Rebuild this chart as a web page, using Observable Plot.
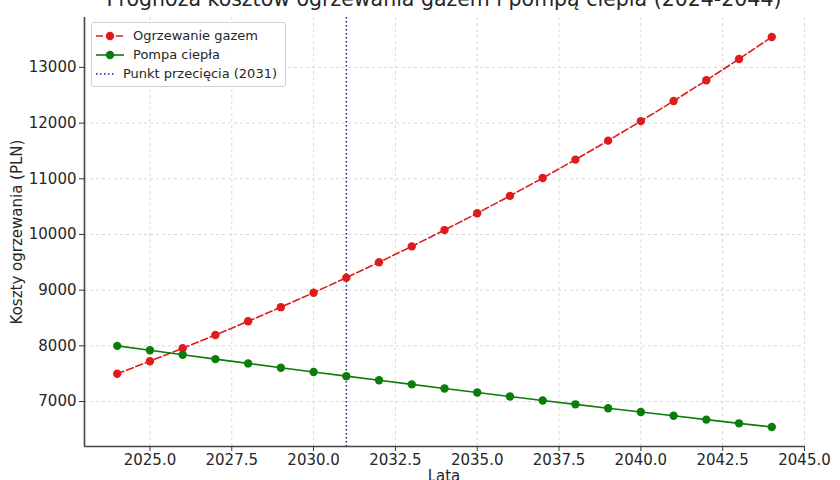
<!DOCTYPE html>
<html>
<head>
<meta charset="utf-8">
<script src="https://cdn.jsdelivr.net/npm/d3@7"></script>
<script src="https://cdn.jsdelivr.net/npm/@observablehq/plot@0.6"></script>
<style>
  html, body { margin: 0; padding: 0; background: #fff; overflow: hidden; }
  #wrap { position: relative; width: 840px; height: 480px; font-family: "DejaVu Sans", sans-serif; color: #262626; }
  #title { position: absolute; top: -13px; left: 0; width: 888px; text-align: center; font-size: 20.5px; white-space: nowrap; }
  #xlabel { position: absolute; top: 467px; left: 84px; width: 720px; text-align: center; font-size: 15px; }
  #ylabel { position: absolute; left: 17px; top: 232px; font-size: 15px; transform: translate(-50%, -50%) rotate(-90deg); white-space: nowrap; }
  #legend { position: absolute; left: 91px; top: 22px; width: 182px; border: 1px solid #d0d0d0; border-radius: 3px; background: rgba(255,255,255,0.85); padding: 3px 8px 3px 3px; font-size: 13px; line-height: 19px; }
  #legend div { display: flex; align-items: center; white-space: nowrap; }
  #legend svg { margin-right: 8px; }
  #chart { position: absolute; left: 0; top: 0; }
</style>
</head>
<body>
<div id="wrap">
  <div id="chart"></div>
  <div id="title">Prognoza kosztów ogrzewania gazem i pompą ciepła (2024-2044)</div>
  <div id="xlabel">Lata</div>
  <div id="ylabel">Koszty ogrzewania (PLN)</div>
  <div id="legend"></div>
</div>
<script>
const years = [2024,2025,2026,2027,2028,2029,2030,2031,2032,2033,2034,2035,2036,2037,2038,2039,2040,2041,2042,2043,2044];
const gasCosts = [7500,7725,7957,8195,8441,8695,8955,9224,9501,9786,10079,10382,10693,11014,11344,11685,12035,12396,12768,13151,13546];
const pumpCosts = [8000,7920,7841,7762,7685,7608,7532,7456,7382,7308,7235,7163,7091,7020,6950,6880,6812,6744,6676,6609,6543];
const xTicks = [2025,2027.5,2030,2032.5,2035,2037.5,2040,2042.5,2045];
const yTicks = [7000,8000,9000,10000,11000,12000,13000];
const crossYear = [2031];
const seriesNames = ["Ogrzewanie gazem", "Pompa ciepła", "Punkt przecięcia (2031)"];

const gasColor = "#e01b1b";
const pumpColor = "#0b7d0b";
const crossColor = "#1c1c8f";

const gas = years.map((y, i) => ({year: y, value: gasCosts[i]}));
const pump = years.map((y, i) => ({year: y, value: pumpCosts[i]}));

const xDomain = [2023, 2045];
const yDomain = [6193, 13896];

const chart = Plot.plot({
  width: 840,
  height: 480,
  marginLeft: 84,
  marginRight: 36,
  marginTop: 17,
  marginBottom: 34,
  style: {fontFamily: "DejaVu Sans, sans-serif", fontSize: "15px", color: "#262626", background: "#fff"},
  x: {domain: xDomain, label: null},
  y: {domain: yDomain, label: null},
  marks: [
    Plot.gridX(xTicks, {stroke: "#cfcfcf", strokeOpacity: 1, strokeDasharray: "3,3", strokeWidth: 0.8}),
    Plot.gridY(yTicks, {stroke: "#cfcfcf", strokeOpacity: 1, strokeDasharray: "3,3", strokeWidth: 0.8}),
    Plot.axisX(xTicks, {tickFormat: d3.format(".1f"), tickSize: 5, tickPadding: 3, fontSize: 15, stroke: "#333", label: null}),
    Plot.axisY(yTicks, {tickFormat: d => String(d), tickSize: 5, tickPadding: 3, fontSize: 15, stroke: "#333", label: null}),
    Plot.ruleX([xDomain[0]], {stroke: "#444", strokeWidth: 1.6}),
    Plot.ruleY([yDomain[0]], {stroke: "#444", strokeWidth: 1.6}),
    Plot.ruleX(crossYear, {stroke: crossColor, strokeWidth: 1.5, strokeDasharray: "1.5,2.5"}),
    Plot.line(gas, {x: "year", y: "value", stroke: gasColor, strokeWidth: 1.6, strokeDasharray: "7,3"}),
    Plot.dot(gas, {x: "year", y: "value", fill: gasColor, r: 4.2}),
    Plot.line(pump, {x: "year", y: "value", stroke: pumpColor, strokeWidth: 1.6}),
    Plot.dot(pump, {x: "year", y: "value", fill: pumpColor, r: 4.2})
  ]
});
document.getElementById("chart").appendChild(chart);

// legend
const legendItems = [
  {name: seriesNames[0], color: gasColor, dash: "7,3", marker: true},
  {name: seriesNames[1], color: pumpColor, dash: null, marker: true},
  {name: seriesNames[2], color: crossColor, dash: "1.5,2.5", marker: false}
];
const legend = document.getElementById("legend");
for (const it of legendItems) {
  const row = document.createElement("div");
  const s = d3.create("svg").attr("width", 30).attr("height", 12);
  s.append("line").attr("x1", 1).attr("x2", 29).attr("y1", 6).attr("y2", 6)
    .attr("stroke", it.color).attr("stroke-width", 1.6)
    .attr("stroke-dasharray", it.dash);
  if (it.marker) s.append("circle").attr("cx", 15).attr("cy", 6).attr("r", 4.2).attr("fill", it.color);
  row.appendChild(s.node());
  const t = document.createElement("span");
  t.textContent = it.name;
  row.appendChild(t);
  legend.appendChild(row);
}
</script>
</body>
</html>
